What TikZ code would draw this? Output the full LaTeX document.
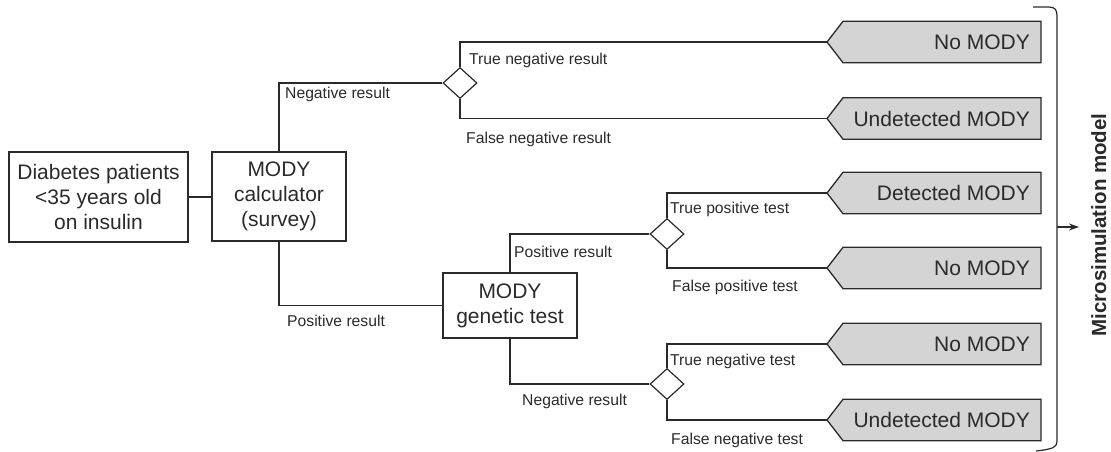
\documentclass[tikz,border=0pt]{standalone}
\usepackage{fontspec}
\setmainfont{Liberation Sans}
\usetikzlibrary{shapes.geometric,arrows.meta,backgrounds,calc}
\definecolor{ln}{HTML}{2A2A2A}
\definecolor{outfill}{HTML}{D4D4D4}
\begin{document}
\begin{tikzpicture}[x=1pt,y=-1pt,
  bigfont/.style={font=\fontsize{21}{25}\selectfont},
  mainbox/.style={draw=ln, line width=1.3pt, bigfont, align=center, inner sep=0pt, text=ln},
  outbox/.style={bigfont, anchor=east, minimum height=41pt, inner xsep=11pt, inner ysep=0pt, text=ln},
  outline/.style={draw=ln, line width=1.3pt, fill=outfill},
  dia/.style={diamond, draw=ln, line width=1.2pt, fill=white, minimum width=34pt, minimum height=31pt, inner sep=0pt},
  lab/.style={font=\fontsize{15.7}{19}\selectfont, anchor=base west, inner sep=0pt, text=ln},
  conn/.style={draw=ln, line width=1.2pt}
]
\useasboundingbox (0,0) rectangle (1111,452);

% main boxes
\node[mainbox, minimum width=179pt, minimum height=90pt] (b1) at (98.5,197) {Diabetes patients\\<35 years old\\on insulin};
\node[mainbox, minimum width=134pt, minimum height=89pt] (b2) at (279,196.5) {MODY\\calculator\\(survey)};
\node[mainbox, minimum width=134pt, minimum height=65pt] (b3) at (510,305.5) {MODY\\genetic test};

% diamonds
\node[dia] (d1) at (460,83) {};
\node[dia] (d2) at (667,234) {};
\node[dia] (d3) at (667,384) {};

% outcome boxes
\node[outbox] (o1) at (1041,42) {No MODY};
\node[outbox] (o2) at (1041,118.5) {Undetected MODY};
\node[outbox] (o3) at (1041,193) {Detected MODY};
\node[outbox] (o4) at (1041,268) {No MODY};
\node[outbox] (o5) at (1041,344) {No MODY};
\node[outbox] (o6) at (1041,420) {Undetected MODY};
\foreach \i in {1,...,6}{
  \coordinate (t\i) at ($(o\i.east)+(-214,0)$);
}
\begin{pgfonlayer}{background}
\foreach \i in {1,...,6}{
  \draw[outline] (o\i.north east) -- (o\i.south east) -- ($(o\i.south east)+(-198,0)$) -- (t\i) -- ($(o\i.north east)+(-198,0)$) -- cycle;
}
\end{pgfonlayer}

% connectors
\draw[conn] (b1.east) -- (b1.east -| b2.west);
\draw[conn] (b2.north) |- (d1.west);
\draw[conn] (d1.north) |- (t1);
\draw[conn] (d1.south) |- (t2);
\draw[conn] (b2.south) |- (b3.west);
\draw[conn] (b3.north) |- (d2.west);
\draw[conn] (b3.south) |- (d3.west);
\draw[conn] (d2.north) |- (t3);
\draw[conn] (d2.south) |- (t4);
\draw[conn] (d3.north) |- (t5);
\draw[conn] (d3.south) |- (t6);

% labels
\node[lab] (l1) at (285,98) {Negative result};
\node[lab] (l2) at (469,65) {True negative result};
\node[lab] (l3) at (466,143) {False negative result};
\node[lab] (l4) at (287,326) {Positive result};
\node[lab] (l5) at (514,257) {Positive result};
\node[lab] (l6) at (670,213) {True positive test};
\node[lab] (l7) at (672,291) {False positive test};
\node[lab] (l8) at (670,365) {True negative test};
\node[lab] (l9) at (522,405) {Negative result};
\node[lab] (l10) at (671,444) {False negative test};

% bracket
\coordinate (bm) at (1057,227);
\coordinate (ae) at (1079,227);
\draw[conn] (1033,7) -- (1049,7) .. controls (1055,7) and (1057,10) .. (1057,16) -- (1057,441) .. controls (1057,447) and (1054,449) .. (1036,451);
\draw[conn, -{Stealth[length=10pt,width=7pt]}] (bm) -- (ae);
\node[rotate=90, anchor=base, inner sep=0pt, font=\fontsize{20.5}{25}\selectfont\bfseries, text=ln] (msm) at (1106,225) {Microsimulation model};
\end{tikzpicture}
\end{document}
